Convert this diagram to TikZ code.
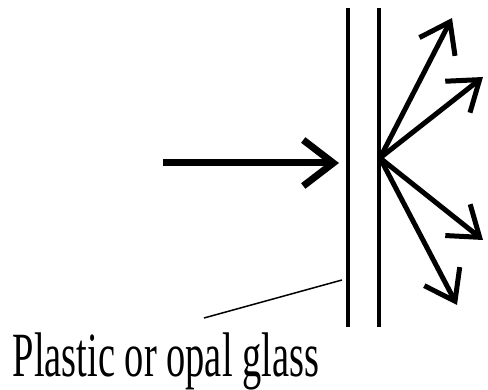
\documentclass[tikz,border=0pt]{standalone}
\usepackage{fontspec}
\setmainfont{Liberation Serif}
\usetikzlibrary{arrows.meta}
\begin{document}
\begin{tikzpicture}[
  x=1pt, y=-1pt,
  pane/.style={line width=3.2pt},
  ray/.style={line width=7pt, -{Straight Barb[length=30pt, width=46pt]}},
  scat/.style={line width=5pt, -{Straight Barb[length=28pt, width=40pt]}},
  leader/.style={line width=1.5pt}
]
\useasboundingbox (0,0) rectangle (488,390);
% glass pane
\coordinate (p1t) at (348,8);  \coordinate (p1b) at (348,327);
\coordinate (p2t) at (379,8);  \coordinate (p2b) at (379,327);
\draw[pane] (p1t) -- (p1b);
\draw[pane] (p2t) -- (p2b);
% incoming light
\coordinate (src) at (163,163);
\coordinate (hit) at (339,163);
\draw[ray] (src) -- (hit);
% scattered light
\coordinate (exit) at (380,158);
\coordinate (t1) at (452,18);
\coordinate (t2) at (483,77);
\coordinate (t3) at (483,240);
\coordinate (t4) at (457,305);
\foreach \k in {1,...,4} \draw[scat] (exit) -- (t\k);
% label
\coordinate (lead) at (342,280);
\node[font=\fontsize{63}{66}\selectfont, xscale=0.61, anchor=base] (lbl) at (166,377) {Plastic or opal glass};
\coordinate (leadend) at (204,318);
\draw[leader] (lead) -- (leadend);
\end{tikzpicture}
\end{document}
